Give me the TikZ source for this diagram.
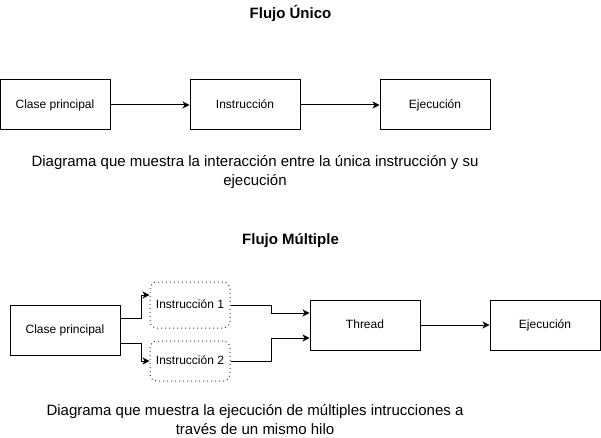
\documentclass[tikz,border=0pt]{standalone}
\usepackage{fontspec}
\setmainfont{Liberation Sans}
\usetikzlibrary{arrows.meta}
\begin{document}
\begin{tikzpicture}[x=1pt,y=-1pt,
		caja/.style={draw,line width=1pt,minimum width=110pt,minimum height=50pt,inner sep=0pt,text height=8.6pt,text depth=2.4pt,font=\fontsize{12}{14}\selectfont},
		instr/.style={draw=black!75,dash pattern=on 1pt off 3pt,line width=1pt,rounded corners=7pt,minimum width=80pt,inner sep=0pt,text height=8.6pt,text depth=2.4pt,font=\fontsize{12}{14}\selectfont},
		titulo/.style={font=\bfseries\fontsize{15}{18}\selectfont},
		leyenda/.style={align=center,font=\fontsize{15}{19.5}\selectfont},
		flecha/.style={-{Stealth[length=7pt,width=7pt,inset=2pt]},line width=1pt}]
			\useasboundingbox (0,0) rectangle (601,438);
			% flujo unico
			\node[titulo] (t1) at (290.5,13) {Flujo Único};
			\node[caja] (cp1) at (55,105) {Clase principal};
			\node[caja] (in) at (245,105) {Instrucción};
			\node[caja] (ej1) at (435,105) {Ejecución};
			\draw[flecha] (cp1) -- (in);
			\draw[flecha] (in) -- (ej1);
			\node[leyenda] (l1) at (255,172) {Diagrama que muestra la interacción entre la única instrucción y su\\ejecución};
			% flujo multiple
			\node[titulo] (t2) at (290.5,241) {Flujo Múltiple};
			\node[caja] (cp2) at (65,330) {Clase principal};
			\node[instr,minimum height=46pt] (in1) at (190,305) {Instrucción 1};
			\node[instr,minimum height=40pt] (in2) at (190,361) {Instrucción 2};
			\node[caja] (th) at (365,325) {Thread};
			\node[caja] (ej2) at (545,325) {Ejecución};
			\draw[flecha] ([yshift=12pt]cp2.east) -- ++(21,0) |- ([yshift=10pt]in1.west);
			\draw[flecha] ([yshift=-13pt]cp2.east) -- ++(21,0) |- (in2.west);
			\draw[flecha] (in1.east) -- ++(41,0) |- ([yshift=12pt]th.west);
			\draw[flecha] (in2.east) -- ++(41,0) |- ([yshift=-13pt]th.west);
			\draw[flecha] (th) -- (ej2);
			\node[leyenda] (l2) at (255,419.5) {Diagrama que muestra la ejecución de múltiples intrucciones a\\través de un mismo hilo};
		\end{tikzpicture}
\end{document}
